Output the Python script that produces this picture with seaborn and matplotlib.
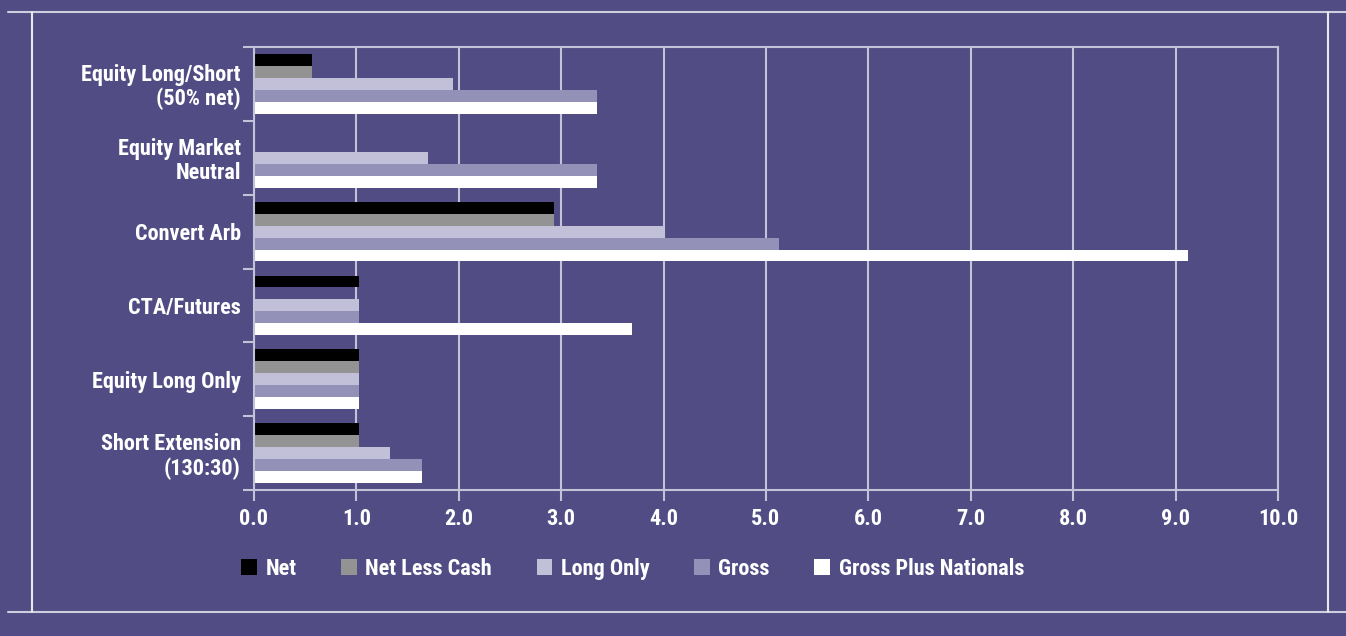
import matplotlib
matplotlib.use("Agg")
import matplotlib.pyplot as plt
import matplotlib.font_manager as fm
import seaborn as sns
import pandas as pd
import numpy as np
from matplotlib.lines import Line2D

categories = ["Equity Long/Short\n(50% net)", "Equity Market\nNeutral", "Convert Arb",
              "CTA/Futures", "Equity Long Only", "Short Extension\n(130:30)"]
series = ["Net", "Net Less Cash", "Long Only", "Gross", "Gross Plus Nationals"]
net = [0.57, 0.0, 2.93, 1.03, 1.03, 1.03]
net_less_cash = [0.57, 0.0, 2.93, 0.0, 1.03, 1.03]
long_only = [1.94, 1.70, 4.01, 1.03, 1.03, 1.33]
gross = [3.35, 3.35, 5.13, 1.03, 1.03, 1.64]
gross_plus = [3.35, 3.35, 9.12, 3.69, 1.03, 1.64]
xticks = [0, 1, 2, 3, 4, 5, 6, 7, 8, 9, 10]
xticklabels = ["0.0", "1.0", "2.0", "3.0", "4.0", "5.0", "6.0", "7.0", "8.0", "9.0", "10.0"]

colors = ["#000000", "#939393", "#C2BFD8", "#9491B9", "#FFFFFF"]
BG = "#514C84"
LINE = "#C4C2D8"

rows = []
for s, vals in zip(series, [net, net_less_cash, long_only, gross, gross_plus]):
    for c, v in zip(categories, vals):
        rows.append({"category": c, "series": s, "value": v})
df = pd.DataFrame(rows)

sns.set_theme(style="white")

# pick a condensed bold font if one is available
names = {f.name for f in fm.fontManager.ttflist}
STRETCH = "normal"
SCALE = 1.0
if "Liberation Sans Narrow" in names:
    FAM = "Liberation Sans Narrow"
elif "Roboto Condensed" in names:
    FAM = "Roboto Condensed"
elif any(f.name == "DejaVu Sans" and str(f.stretch) in ("condensed", "semi-condensed") for f in fm.fontManager.ttflist):
    FAM = "DejaVu Sans"
    STRETCH = "condensed"
elif "Lato" in names:
    FAM = "Lato"
    SCALE = 0.9
else:
    FAM = "Roboto"
    SCALE = 0.9
FONT = [FAM, "DejaVu Sans"]
plt.rcParams["font.family"] = FONT
plt.rcParams["font.weight"] = "bold"
plt.rcParams["font.stretch"] = STRETCH
FP_Y = fm.FontProperties(family=FONT, weight="bold", size=16 * SCALE, stretch=STRETCH)
FP_X = fm.FontProperties(family=FONT, weight="bold", size=16 * SCALE, stretch=STRETCH)
FP_L = fm.FontProperties(family=FONT, weight="bold", size=16 * SCALE, stretch=STRETCH)

fig = plt.figure(figsize=(13.46, 6.36), dpi=100, facecolor=BG)
ax = fig.add_axes([254/1346, 1-490/636, (1278-254)/1346, (490-47)/636])
ax.set_facecolor(BG)

sns.barplot(data=df, y="category", x="value", hue="series", order=categories,
            hue_order=series, palette=colors, orient="h", width=0.81, gap=0,
            saturation=1, linewidth=0, ax=ax, legend=True)

ax.set_xlim(0, 10)
ax.set_ylim(5.5, -0.5)
ax.set_xticks(xticks)
ax.set_xticklabels(xticklabels)
ax.set_xlabel("")
ax.set_ylabel("")
ax.grid(axis="x", color=LINE, linewidth=1.5)
ax.grid(axis="y", visible=False)
ax.set_axisbelow(True)

ax.tick_params(axis="x", colors=LINE, length=8, width=1.5, direction="out",
               labelcolor="white", pad=5, bottom=True)
ax.tick_params(axis="y", which="major", length=0, labelcolor="white", pad=9.5)
ax.set_yticks(np.arange(-0.5, 6.0, 1.0), minor=True)
ax.tick_params(axis="y", which="minor", length=8, width=1.5, color=LINE, left=True)
for lab in ax.get_xticklabels():
    lab.set_fontproperties(FP_X)
for lab in ax.get_yticklabels():
    lab.set_fontproperties(FP_Y)
    lab.set_linespacing(1.1)

for sp in ax.spines.values():
    sp.set_visible(True)
    sp.set_color(LINE)
    sp.set_linewidth(1.5)

handles, labels = ax.get_legend_handles_labels()
leg = ax.legend(handles, labels, ncol=5, frameon=False,
                loc="center left", bbox_to_anchor=(221/1346, 1-569/636),
                bbox_transform=fig.transFigure,
                handlelength=0.7, handleheight=0.7, handletextpad=0.4,
                columnspacing=2.0, prop=FP_L)
for t in leg.get_texts():
    t.set_color("white")

# outer frame lines
fig.add_artist(Line2D([8/1346, 1.0], [1-12/636, 1-12/636], transform=fig.transFigure,
                      color="#D0CFE0", linewidth=1.5))
fig.add_artist(Line2D([8/1346, 1.0], [1-612/636, 1-612/636], transform=fig.transFigure,
                      color="#D0CFE0", linewidth=1.5))
fig.add_artist(Line2D([32/1346, 32/1346], [1-12/636, 1-612/636], transform=fig.transFigure,
                      color="#E8E8F0", linewidth=1.5))
fig.add_artist(Line2D([1328/1346, 1328/1346], [1-12/636, 1-612/636], transform=fig.transFigure,
                      color="#E8E8F0", linewidth=1.5))

fig.savefig("out.png", dpi=100, facecolor=BG)
